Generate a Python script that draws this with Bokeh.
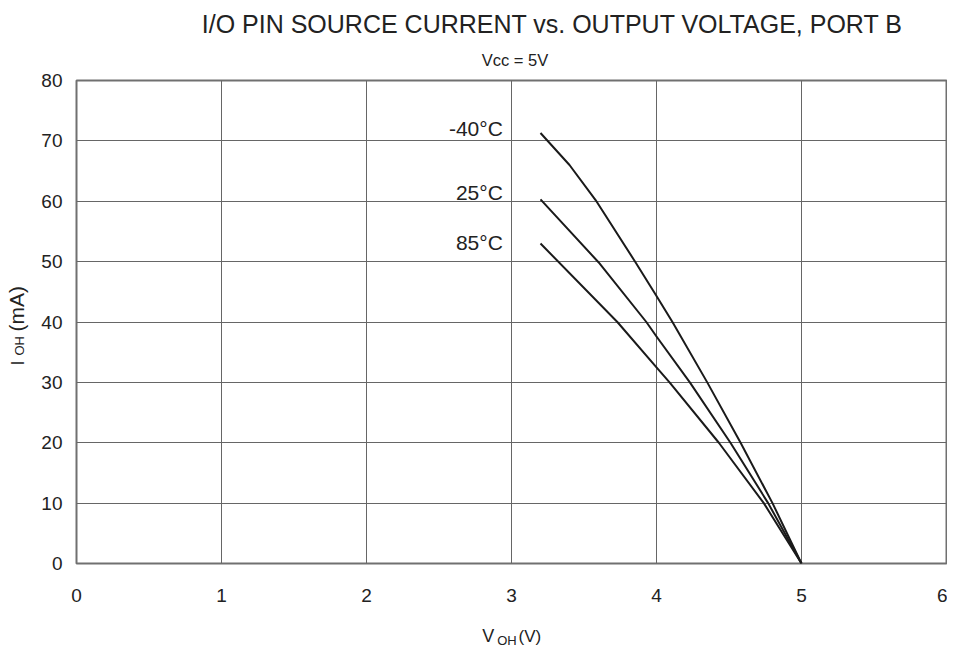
import math
from bokeh.plotting import figure
from bokeh.layouts import row, column
from bokeh.models import Label, FixedTicker, Range1d, ColumnDataSource
from bokeh.core.properties import value
from bokeh.embed import file_html
from bokeh.resources import INLINE

# ---- data ----
v_m40 = [3.2, 3.4, 3.58, 3.855, 4.0, 4.11, 4.35, 4.58, 4.8, 5.0]
i_m40 = [71.3, 66.0, 60.2, 49.9, 44.3, 40.0, 30.0, 20.0, 10.0, 0.0]
v_25 = [3.2, 3.6, 3.93, 4.0, 4.23, 4.51, 4.77, 5.0]
i_25 = [60.3, 49.9, 40.0, 37.6, 30.0, 20.0, 10.0, 0.0]
v_85 = [3.2, 3.73, 4.0, 4.09, 4.43, 4.74, 5.0]
i_85 = [53.0, 40.0, 32.5, 30.0, 20.0, 10.0, 0.0]

curve_labels = ["-40°C", "25°C", "85°C"]
label_v = [2.94, 2.94, 2.94]
label_i = [72.1, 61.46, 53.18]

x_ticks = [0, 1, 2, 3, 4, 5, 6]
y_ticks = [0, 10, 20, 30, 40, 50, 60, 70, 80]

title_text = "I/O PIN SOURCE CURRENT vs. OUTPUT VOLTAGE, PORT B"
subtitle_text = "Vcc = 5V"
x_label_parts = ["V", "OH", "(V)"]
y_label_parts = ["I", "OH", "(mA)"]

FONT = "Liberation Sans"
TXT = "#222222"

LEFT_W = 30
TOP_H = 70
MAIN_W = 917
MAIN_H = 548
BOT_H = 30
TOTAL_H = TOP_H + MAIN_H + BOT_H
SHIFT = 0.38  # baseline correction (fraction of font size)


def strip(w, h):
    f = figure(width=w, height=h, output_backend="svg", toolbar_location=None,
               x_range=Range1d(0, w), y_range=Range1d(0, h),
               x_axis_type=None, y_axis_type=None, title=None,
               min_border_left=0, min_border_right=0, min_border_top=0, min_border_bottom=0)
    f.outline_line_color = None
    f.background_fill_color = "white"
    f.border_fill_color = "white"
    return f


def lab(f, x, y, text, size, align="left", angle=0.0):
    # x, y: canvas position of the text baseline start (y measured from the top)
    d = SHIFT * size
    if angle:
        x = x - d
    else:
        y = y - d
    f.add_layout(Label(x=x, y=y, x_units="canvas", y_units="canvas", text=text,
                       text_font=FONT, text_font_size=f"{size}px",
                       text_color=TXT, text_align=align, text_baseline="alphabetic",
                       angle=angle))


# ---- main chart ----
p = figure(width=MAIN_W, height=MAIN_H, output_backend="svg", toolbar_location=None,
           x_range=Range1d(0, 6), y_range=Range1d(0, 80),
           min_border_left=46, min_border_right=1, min_border_top=10, min_border_bottom=55)

p.background_fill_color = "white"
p.border_fill_color = "white"
p.outline_line_color = "#707070"
p.outline_line_width = 2

for ax in (p.xaxis[0], p.yaxis[0]):
    ax.axis_line_color = None
    ax.major_tick_line_color = None
    ax.minor_tick_line_color = None
    ax.major_tick_out = 0
    ax.major_tick_in = 0
    ax.minor_tick_out = 0
    ax.major_label_text_font = FONT
    ax.major_label_text_font_size = "19px"
    ax.major_label_text_color = TXT

p.xaxis.ticker = FixedTicker(ticks=x_ticks)
p.yaxis.ticker = FixedTicker(ticks=y_ticks)
p.xaxis.major_label_standoff = 25
p.yaxis.major_label_standoff = 14

p.xgrid.ticker = FixedTicker(ticks=x_ticks)
p.ygrid.ticker = FixedTicker(ticks=y_ticks)
for g in (p.xgrid[0], p.ygrid[0]):
    g.grid_line_color = "#666666"
    g.grid_line_width = 1

for vs, cs in ((v_m40, i_m40), (v_25, i_25), (v_85, i_85)):
    p.line(vs, cs, line_color="#1a1a1a", line_width=2, line_join="round")

src = ColumnDataSource(dict(x=label_v, y=label_i, t=curve_labels))
p.text(x="x", y="y", text="t", source=src, text_align="right", text_baseline="alphabetic",
       text_font=value(FONT), text_font_size="21px", text_color=TXT)

# ---- title strip (canvas x offset LEFT_W, y offset 0) ----
top = strip(MAIN_W, TOP_H)
lab(top, 552 - LEFT_W, 33, title_text, 25, align="center")
lab(top, 514.5 - LEFT_W, 65.5, subtitle_text, 16.5, align="center")

# ---- x label strip (canvas x offset LEFT_W, y offset TOP_H + MAIN_H) ----
y0 = TOP_H + MAIN_H
bot = strip(MAIN_W, BOT_H)
lab(bot, 481.7 - LEFT_W, 642.7 - y0, x_label_parts[0], 18)
lab(bot, 496.7 - LEFT_W, 645.0 - y0, x_label_parts[1], 13)
lab(bot, 518.0 - LEFT_W, 642.7 - y0, x_label_parts[2], 17)

# ---- y label strip ----
left = strip(LEFT_W, TOTAL_H)
r = math.pi / 2
lab(left, 24.0, 365, y_label_parts[0], 18, angle=r)
lab(left, 23.5, 355, y_label_parts[1], 13, angle=r)
lab(left, 24.0, 331, y_label_parts[2], 21, angle=r)

layout = row(left, column(top, p, bot, spacing=0), spacing=0)

open("out.html", "w").write(file_html(layout, INLINE))
